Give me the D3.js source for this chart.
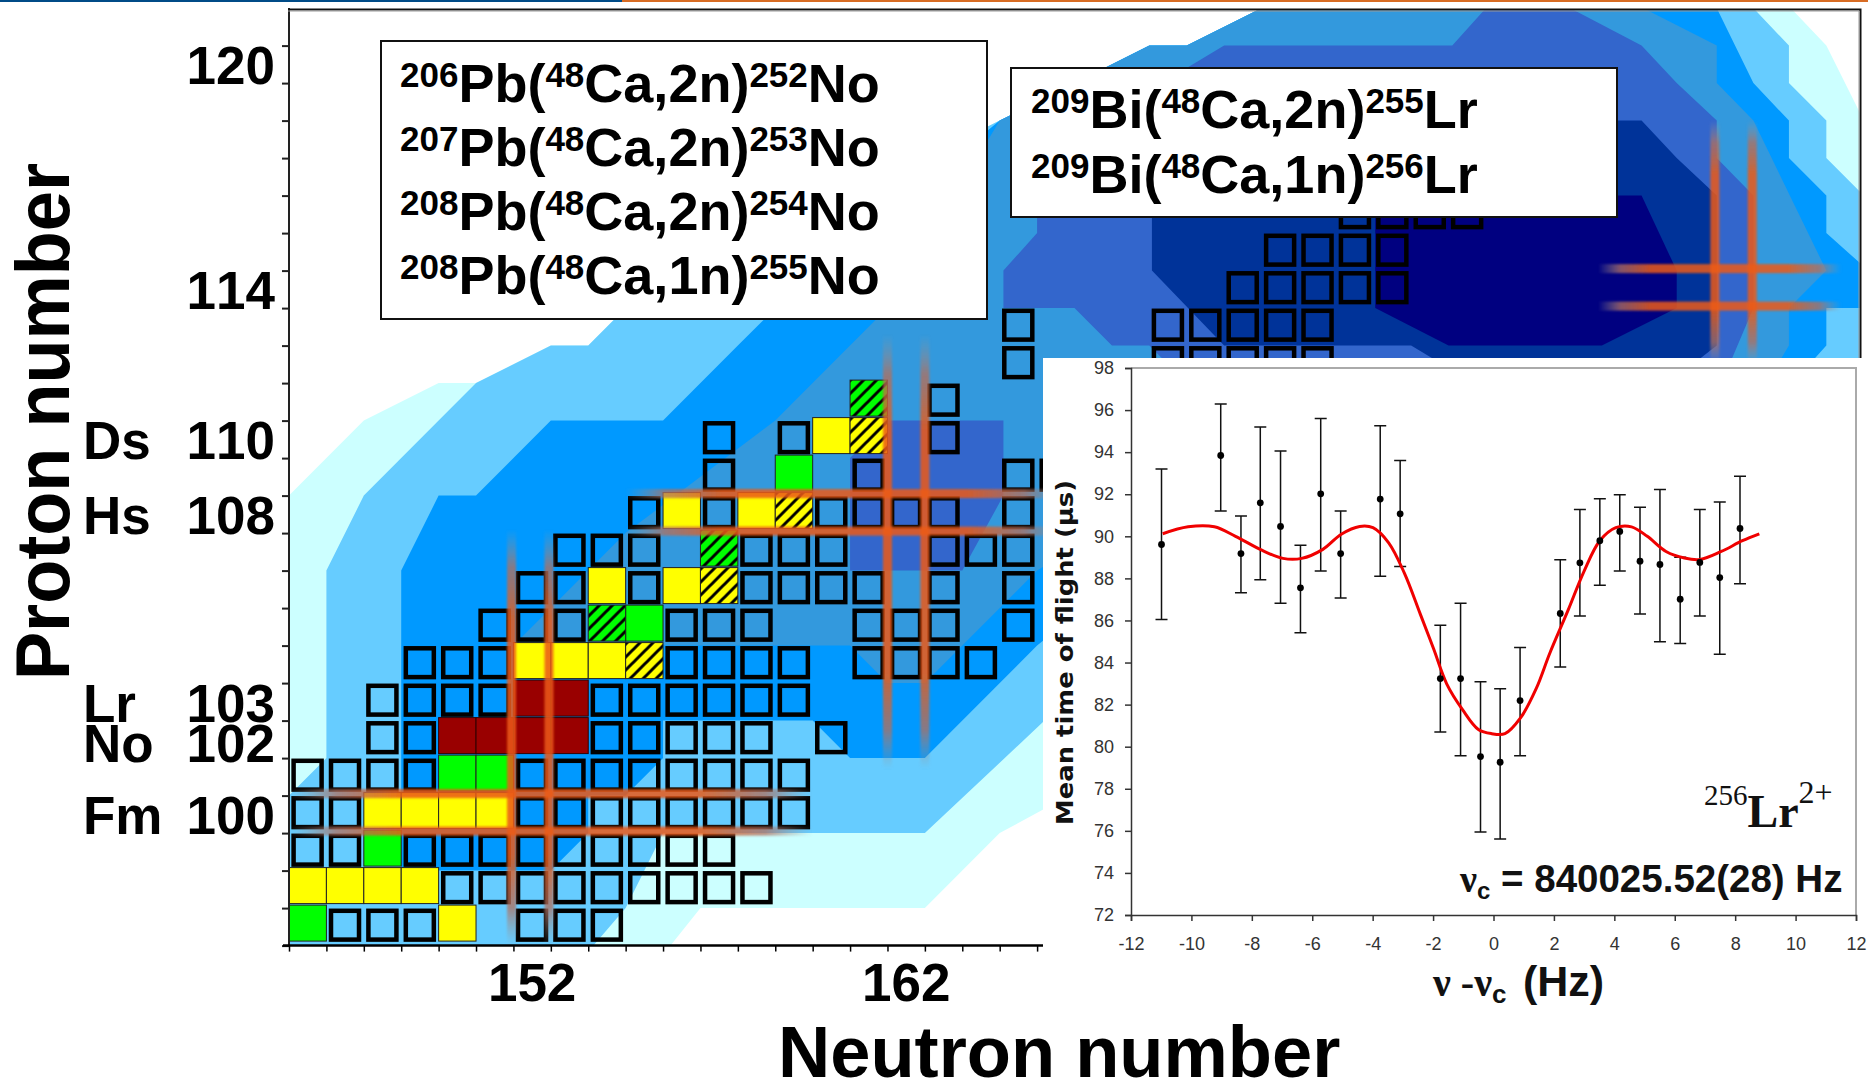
<!DOCTYPE html>
<html>
<head>
<meta charset="utf-8">
<style>
html,body{margin:0;padding:0;background:#fff;overflow:hidden}
svg{display:block;font-family:"Liberation Sans",Arial,sans-serif;font-kerning:none}
</style>
<script src="https://cdnjs.cloudflare.com/ajax/libs/d3/7.8.5/d3.min.js"></script>
</head>
<body>
<svg id="c" width="1868" height="1083"></svg>
<script>
// ---------- nuclide chart data ----------
const N_MIN = 146, N_COUNT = 42, Z_MIN = 97, Z_COUNT = 25;
const neutronLabels = [152, 162];
const protonLabels = [[120,""],[114,""],[110,"Ds"],[108,"Hs"],[103,"Lr"],[102,"No"],[100,"Fm"]];

// contour levels: corners as [neutron offset, proton offset] from the lower-left corner of the chart
const levelCyan = [[0,0],[0,12],[1,13],[2,14],[4,15],[5,15],[7,16],[8,16],[9,17],[19,22],[23,24],[24,24],[26,25],[40.15,25],[41.1,24],[42,22.2],[42,10],[20.2,3.65],[19,3],[17,1],[11,1],[10.2,0]];
const levelSky = [[0,0],[0,4],[1,5],[1,10],[2,12],[5,15],[7,16],[8,16],[9,17],[19,22],[23,24],[24,24],[26,25],[39.15,25],[40.1,24],[40.1,23],[41.1,22],[41.1,21],[42,20.1],[42,12],[20.2,6],[17,3],[10,3],[9,1],[8.14,0]];
const levelAzure = [[3,2],[3,10],[4,12],[5,12],[7,14],[10,14],[11,15],[12,16],[13,17],[19,22],[23,24],[24,24],[26,25],[38.17,25],[39.15,23],[40.1,22],[40.1,21],[41.1,20],[41.1,19],[42,18.2],[42,17],[41.1,17],[41.1,16],[40.2,15],[25,12],[20,8],[17,5],[15,5],[14,6],[10,6],[10,5],[9,4],[8,4],[8,3],[7,2]];
const levelSteel = [[6,8],[7,9],[8,10],[9,11],[11,12.5],[13,14],[14,15],[16,17],[19,22],[23,24],[24,24],[26,25],[36.2,25],[38.17,24],[38.17,23],[39.15,22],[41.1,18],[40.1,17],[40.1,16],[39.5,15],[25,13],[20,10],[18,8],[17,7],[16,7],[15,8]];
const levelRoyalLow = [[15,10],[15,13],[16,14],[19.1,14],[19.1,12],[18,10]];
const levelRoyal = [[19.1,17],[19.1,18],[20,19],[20,20],[22,22],[24,23.4],[25,24],[31.1,24],[32,25],[34.25,25],[36.16,24],[37.1,23],[38.17,22],[38.17,21],[39.15,20],[39.15,17],[38.3,15],[24,15],[23,16],[22,16],[21,17]];
const levelDeep = [[23.07,18],[23.07,21],[25,22],[36.16,22],[37.1,21],[38.17,20],[38.17,16],[37.4,15.4],[31,15.4],[30,16],[25,16]];
const levelNavy = [[29.04,17],[29.04,20],[36.16,20],[37.1,18],[37.1,17],[35.1,16],[31,16]];
const contourLevels = [
  [levelCyan,"#CCFFFF"],[levelSky,"#66CCFF"],[levelAzure,"#0099FF"],[levelSteel,"#3399DD"],
  [levelRoyalLow,"#3366CC"],[levelRoyal,"#3366CC"],[levelDeep,"#003399"],[levelNavy,"#000080"]
];

// outlined nuclides: [Z, neutron numbers]
const knownNuclides = [
  [97,[147,148,149,152,153,154]],
  [98,[150,151,152,153,154,155,156,157,158]],
  [99,[146,147,149,150,151,152,153,154,155,156,157]],
  [100,[146,147,152,153,154,155,156,157,158,159]],
  [101,[146,147,148,149,152,153,154,155,156,157,158,159]],
  [102,[148,149,154,155,156,157,158,160]],
  [103,[148,149,150,151,154,155,156,157,158,159]],
  [104,[149,150,151,156,157,158,159,161,162,163,164]],
  [105,[151,152,153,156,157,158,161,162,163,165]],
  [106,[152,153,155,158,159,160,161,163,165]],
  [107,[153,154,155,158,159,160,163,164,165]],
  [108,[155,157,160,161,162,163,165]],
  [109,[157,161,165,166]],
  [110,[157,159,163]],
  [111,[163]],
  [112,[165,169,170,171,172,173]],
  [113,[165,169,170,171,172,173]],
  [114,[171,172,173,174,175]],
  [115,[172,173,174,175]],
  [116,[174,175,176,177]]
];
const yellowCells = [[150,97],[146,98],[147,98],[148,98],[149,98],[148,100],[149,100],[150,100],[151,100],[152,104],[153,104],[154,104],[154,106],[156,106],[156,108],[158,108],[160,110]];
const greenCells = [[146,97],[148,99],[150,101],[151,101],[155,105],[159,109]];
const redCells = [[150,102],[151,102],[152,102],[153,102],[152,103],[153,103]];
const hatchedYellowCells = [[155,104],[157,106],[159,108],[161,110]];
const hatchedGreenCells = [[154,105],[157,107],[161,111]];

// magic-number crosses
const crosses = [
  {n:151.95, z:100, zFrom:96.5, zTo:107.6, nFrom:145.5, nTo:159.5},
  {n:162, z:108, zFrom:101.2, zTo:112.8, nFrom:154.5, nTo:166.2},
  {n:184.12, z:114, zFrom:112,  zTo:118.5, nFrom:180.5, nTo:187}
];

// reaction boxes: segments of [text, isSuperscript]
const reactionsPb = [
  [["206",1],["Pb(",0],["48",1],["Ca,2n)",0],["252",1],["No",0]],
  [["207",1],["Pb(",0],["48",1],["Ca,2n)",0],["253",1],["No",0]],
  [["208",1],["Pb(",0],["48",1],["Ca,2n)",0],["254",1],["No",0]],
  [["208",1],["Pb(",0],["48",1],["Ca,1n)",0],["255",1],["No",0]]
];
const reactionsBi = [
  [["209",1],["Bi(",0],["48",1],["Ca,2n)",0],["255",1],["Lr",0]],
  [["209",1],["Bi(",0],["48",1],["Ca,1n)",0],["256",1],["Lr",0]]
];

// ---------- time-of-flight resonance inset ----------
const freqTicks = [-12,-10,-8,-6,-4,-2,0,2,4,6,8,10,12];
const tofTicks = [72,74,76,78,80,82,84,86,88,90,92,94,96,98];
const freqOffset = [-10.99,-9.03,-8.36,-7.72,-7.05,-6.39,-5.72,-5.06,-3.75,-3.09,-1.76,-1.09,-0.43,0.22,0.88,2.21,2.86,3.52,4.18,4.85,5.51,6.18,6.83,7.49,8.16];
const tofMean = [89.61,93.84,89.18,91.59,90.47,87.55,92.02,89.18,91.77,91.07,83.24,83.24,79.53,79.26,82.19,86.33,88.74,89.79,90.23,88.82,88.66,87.01,88.76,88.04,90.37];
const tofHigh = [93.2,96.29,90.97,95.2,94.06,89.57,95.6,91.2,95.26,93.6,85.77,86.82,83.09,82.76,84.72,88.89,91.28,91.79,91.98,91.38,92.23,89.0,91.28,91.63,92.85];
const tofLow = [86.04,91.2,87.32,87.94,86.82,85.42,88.35,87.07,88.1,88.56,80.7,79.57,75.94,75.61,79.57,83.79,86.21,87.67,88.35,86.31,84.99,84.91,86.21,84.39,87.75];
const fitX = [-10.95,-10.11,-9.24,-8.54,-7.67,-6.97,-6.35,-5.65,-5.04,-4.43,-3.99,-3.47,-2.95,-2.42,-1.98,-1.55,-1.02,-0.5,-0.06,0.38,0.9,1.42,1.86,2.47,3.0,3.52,4.05,4.57,5.09,5.71,6.32,6.84,7.54,8.24,8.8];
const fitY = [90.12,90.45,90.45,90.0,89.34,88.95,88.95,89.38,90.1,90.47,90.41,89.69,88.25,86.29,84.64,82.99,81.75,80.82,80.62,80.62,81.38,82.78,84.43,86.49,88.35,89.79,90.41,90.45,90.0,89.28,88.97,88.9,89.28,89.79,90.12];

// ---------- drawing ----------
const svg = d3.select("#c");
const defs = svg.append("defs");

const x = d3.scaleLinear().domain([N_MIN-0.5, N_MIN-0.5+N_COUNT]).range([289,1860]);
const y = d3.scaleLinear().domain([Z_MIN-0.5, Z_MIN-0.5+Z_COUNT]).range([945.6,8.1]);
const colW = x(1)-x(0), rowH = y(0)-y(1);
const ox = u => x(N_MIN-0.5+u), oy = v => y(Z_MIN-0.5+v);

defs.append("clipPath").attr("id","plot").append("rect")
  .attr("x",289).attr("y",9).attr("width",1571).attr("height",937);
defs.append("filter").attr("id","soft").attr("x","-30%").attr("y","-5%").attr("width","160%").attr("height","110%")
  .append("feGaussianBlur").attr("stdDeviation",1.3);
[["hatchY","#FFFF00"],["hatchG","#00FF00"]].forEach(([id,c])=>{
  const p = defs.append("pattern").attr("id",id).attr("patternUnits","userSpaceOnUse")
    .attr("width",13).attr("height",13).attr("x",x(146)).attr("y",0);
  p.append("rect").attr("width",13).attr("height",13).attr("fill",c);
  p.append("path").attr("d","M-3,16L16,-3M-3,3L3,-3M10,16L16,10").attr("stroke","#000").attr("stroke-width",3);
});
[["fadeV",1,0],["fadeH",0,1]].forEach(([id,b,c])=>{
  const g = defs.append("linearGradient").attr("id",id)
    .attr("x1",0).attr("y1",0).attr("x2",c).attr("y2",b);
  [[0,"#999",0],[0.09,"#B07060",0.75],[0.22,"#EC5A14",0.85],[0.78,"#EC5A14",0.85],[0.91,"#B07060",0.75],[1,"#999",0]]
    .forEach(s=>g.append("stop").attr("offset",s[0]).attr("stop-color",s[1]).attr("stop-opacity",s[2]));
});

// top strip
svg.append("rect").attr("x",0).attr("y",0).attr("width",622).attr("height",2).attr("fill","#004B87");
svg.append("rect").attr("x",622).attr("y",0).attr("width",1246).attr("height",2).attr("fill","#D86C24");

const plot = svg.append("g").attr("clip-path","url(#plot)");
const line = d3.line().x(d=>ox(d[0])).y(d=>oy(d[1]));
plot.selectAll("path.level").data(contourLevels).join("path").attr("class","level")
  .attr("d",d=>line(d[0])+"Z").attr("fill",d=>d[1]);

// outlined nuclides
const outlined = knownNuclides.flatMap(([z,ns])=>ns.map(n=>[n,z]));
plot.selectAll("rect.known").data(outlined).join("rect").attr("class","known")
  .attr("x",d=>x(d[0]-0.5)+4.6).attr("y",d=>y(d[1]+0.5)+2.7)
  .attr("width",colW-9.4).attr("height",rowH-8.7)
  .attr("fill","none").attr("stroke","#000").attr("stroke-width",4.5);

// coloured nuclides
function fillCells(cells,fill,stroke){
  plot.append("g").selectAll("rect").data(cells).join("rect")
    .attr("x",d=>x(d[0]-0.5)).attr("y",d=>y(d[1]+0.5)-3)
    .attr("width",colW).attr("height",rowH-1.5)
    .attr("fill",fill).attr("stroke",stroke).attr("stroke-width",1);
}
fillCells(yellowCells,"#FFFF00","#222");
fillCells(greenCells,"#00FF00","#222");
fillCells(redCells,"#990000","#300");
fillCells(hatchedYellowCells,"url(#hatchY)","#222");
fillCells(hatchedGreenCells,"url(#hatchG)","#222");

// magic number lines
const cross = plot.append("g").attr("filter","url(#soft)");
crosses.forEach(c=>{
  [c.n-0.5,c.n+0.5].forEach(e=>{
    cross.append("rect").attr("x",x(e)-4.5).attr("y",y(c.zTo)).attr("width",9)
      .attr("height",y(c.zFrom)-y(c.zTo)).attr("fill","url(#fadeV)");
  });
  [c.z-0.5,c.z+0.5].forEach(e=>{
    cross.append("rect").attr("x",x(c.nFrom)).attr("y",y(e)-6.5).attr("height",9)
      .attr("width",x(c.nTo)-x(c.nFrom)).attr("fill","url(#fadeH)");
  });
});

// axes
const zEdges = d3.range(0,25).map(i=>Z_MIN-0.5+i);
const nEdges = d3.range(0,21).map(i=>N_MIN-0.5+i);
const axL = svg.append("g").attr("transform","translate(289,0)")
  .call(d3.axisLeft(y).tickValues(zEdges).tickSize(7).tickFormat(""));
axL.select(".domain").attr("d","M0,8V946").attr("stroke","#222").attr("stroke-width",2);
axL.selectAll(".tick line").attr("stroke","#222").attr("stroke-width",2);
const axB = svg.append("g").attr("transform","translate(0,945.6)")
  .call(d3.axisBottom(x).tickValues(nEdges).tickSize(6).tickFormat(""));
axB.select(".domain").attr("d","M283,0H"+x(N_MIN-0.5+20.2)).attr("stroke","#000").attr("stroke-width",2.5);
axB.selectAll(".tick line").attr("stroke","#000").attr("stroke-width",1.5);
svg.append("path").attr("d","M288,9.5H1860.5V358").attr("fill","none").attr("stroke","#111").attr("stroke-width",2);
svg.append("path").attr("d","M288,11H1859V358").attr("fill","none").attr("stroke","#999").attr("stroke-width",1);

// reaction boxes
function reactionBox(lines,bx,by,bw,bh,tx,ty,step){
  svg.append("rect").attr("x",bx).attr("y",by).attr("width",bw).attr("height",bh)
    .attr("fill","#fff").attr("stroke","#111").attr("stroke-width",2);
  lines.forEach((segs,i)=>{
    const t = svg.append("text").attr("x",tx).attr("y",ty+i*step).attr("font-weight","bold");
    let raised = false;
    segs.forEach(([s,sup])=>{
      const ts = t.append("tspan").text(s).attr("font-size",sup?35:54);
      const dy = (sup && !raised) ? -15 : (!sup && raised) ? 15 : 0;
      if(dy) ts.attr("dy",dy);
      raised = !!sup;
    });
  });
}
reactionBox(reactionsPb,381,41,606,278,400,102,64);
reactionBox(reactionsBi,1011,68,606,149,1031,128,64.5);

// ---------- inset ----------
svg.append("rect").attr("x",1043).attr("y",358).attr("width",825).attr("height",725).attr("fill","#fff");
const ix = d3.scaleLinear().domain([-12,12]).range([1131,1856]);
const iy = d3.scaleLinear().domain([72,98]).range([915,368]);
const inset = svg.append("g");
inset.append("path").attr("d",`M${ix(-12)},${iy(98)}H${ix(12)}V${iy(72)}`).attr("fill","none").attr("stroke","#aaa").attr("stroke-width",2);
const iaB = inset.append("g").attr("transform",`translate(0,${iy(72)})`)
  .call(d3.axisBottom(ix).tickValues(freqTicks).tickSize(6).tickPadding(16).tickFormat(String));
const iaL = inset.append("g").attr("transform",`translate(${ix(-12)},0)`)
  .call(d3.axisLeft(iy).tickValues(tofTicks).tickSize(6).tickPadding(11));
[iaB,iaL].forEach(a=>{
  a.select(".domain").attr("stroke","#333").attr("stroke-width",1.5);
  a.selectAll(".tick line").attr("stroke","#333").attr("stroke-width",1.5);
  a.selectAll("text").attr("font-size",18).attr("fill","#333").attr("font-family",'"Liberation Sans"');
});
const pts = freqOffset.map((f,i)=>({f,m:tofMean[i],h:tofHigh[i],l:tofLow[i]}));
const bars = inset.append("g").attr("stroke","#111").attr("stroke-width",1.5);
bars.selectAll("path").data(pts).join("path").attr("fill","none")
  .attr("d",d=>`M${ix(d.f)-6},${iy(d.h)}h12M${ix(d.f)},${iy(d.h)}V${iy(d.l)}M${ix(d.f)-6},${iy(d.l)}h12`);
inset.append("path").datum(fitX.map((v,i)=>[v,fitY[i]]))
  .attr("d",d3.line().curve(d3.curveCatmullRom).x(d=>ix(d[0])).y(d=>iy(d[1])))
  .attr("fill","none").attr("stroke","#F00000").attr("stroke-width",3);
inset.append("g").selectAll("circle").data(pts).join("circle")
  .attr("cx",d=>ix(d.f)).attr("cy",d=>iy(d.m)).attr("r",3.4).attr("fill","#000");

inset.append("text").attr("transform","translate(1073,825) rotate(-90)")
  .attr("font-family",'"DejaVu Sans"').attr("font-weight","bold").attr("font-size",23)
  .attr("textLength",345).attr("lengthAdjust","spacingAndGlyphs").attr("fill","#111").text("Mean time of flight (µs)");

const lr = inset.append("text").attr("x",1704).attr("y",827).attr("font-family",'"Liberation Serif"').attr("fill","#111");
lr.append("tspan").attr("font-size",29).attr("dy",-22).text("256");
lr.append("tspan").attr("font-size",46).attr("dy",22).attr("font-weight","bold").text("Lr");
lr.append("tspan").attr("font-size",32).attr("dy",-24).text("2+");

const nuc = inset.append("text").attr("x",1460).attr("y",892).attr("font-weight","bold").attr("fill","#111");
nuc.append("tspan").attr("font-family",'"Liberation Serif"').attr("font-size",38).text("ν");
nuc.append("tspan").attr("font-size",24).attr("dy",7).text("c");
nuc.append("tspan").attr("font-size",38.5).attr("dy",-7).text(" = 840025.52(28) Hz");

const xl = inset.append("text").attr("y",996).attr("font-weight","bold").attr("fill","#111");
xl.append("tspan").attr("x",1433).attr("font-family",'"Liberation Serif"').attr("font-size",40).text("ν -ν");
xl.append("tspan").attr("font-size",26).attr("dy",7).text("c");
xl.append("tspan").attr("x",1523).attr("font-size",43).attr("dy",-7).text("(Hz)");

// axis value labels and titles
const big = {size:53, weight:"bold"};
svg.append("g").selectAll("text").data(neutronLabels).join("text")
  .attr("x",d=>x(d)).attr("y",1001).attr("text-anchor","middle")
  .attr("font-size",big.size).attr("font-weight",big.weight).text(d=>d);
svg.append("g").selectAll("text").data(protonLabels).join("text")
  .attr("x",275).attr("y",d=>y(d[0]-0.5)+(d[0]===102?4:1)).attr("text-anchor","end")
  .attr("font-size",big.size).attr("font-weight",big.weight).text(d=>d[0]);
svg.append("g").selectAll("text").data(protonLabels.filter(d=>d[1])).join("text")
  .attr("x",83).attr("y",d=>y(d[0]-0.5)+(d[0]===102?4:1))
  .attr("font-size",big.size).attr("font-weight",big.weight).text(d=>d[1]);

svg.append("text").attr("transform","translate(69,680) rotate(-90)")
  .attr("font-size",76).attr("font-weight","bold")
  .attr("textLength",517).attr("lengthAdjust","spacingAndGlyphs").text("Proton number");
svg.append("text").attr("x",778).attr("y",1077)
  .attr("font-size",72.3).attr("font-weight","bold").text("Neutron number");
</script>
</body>
</html>
